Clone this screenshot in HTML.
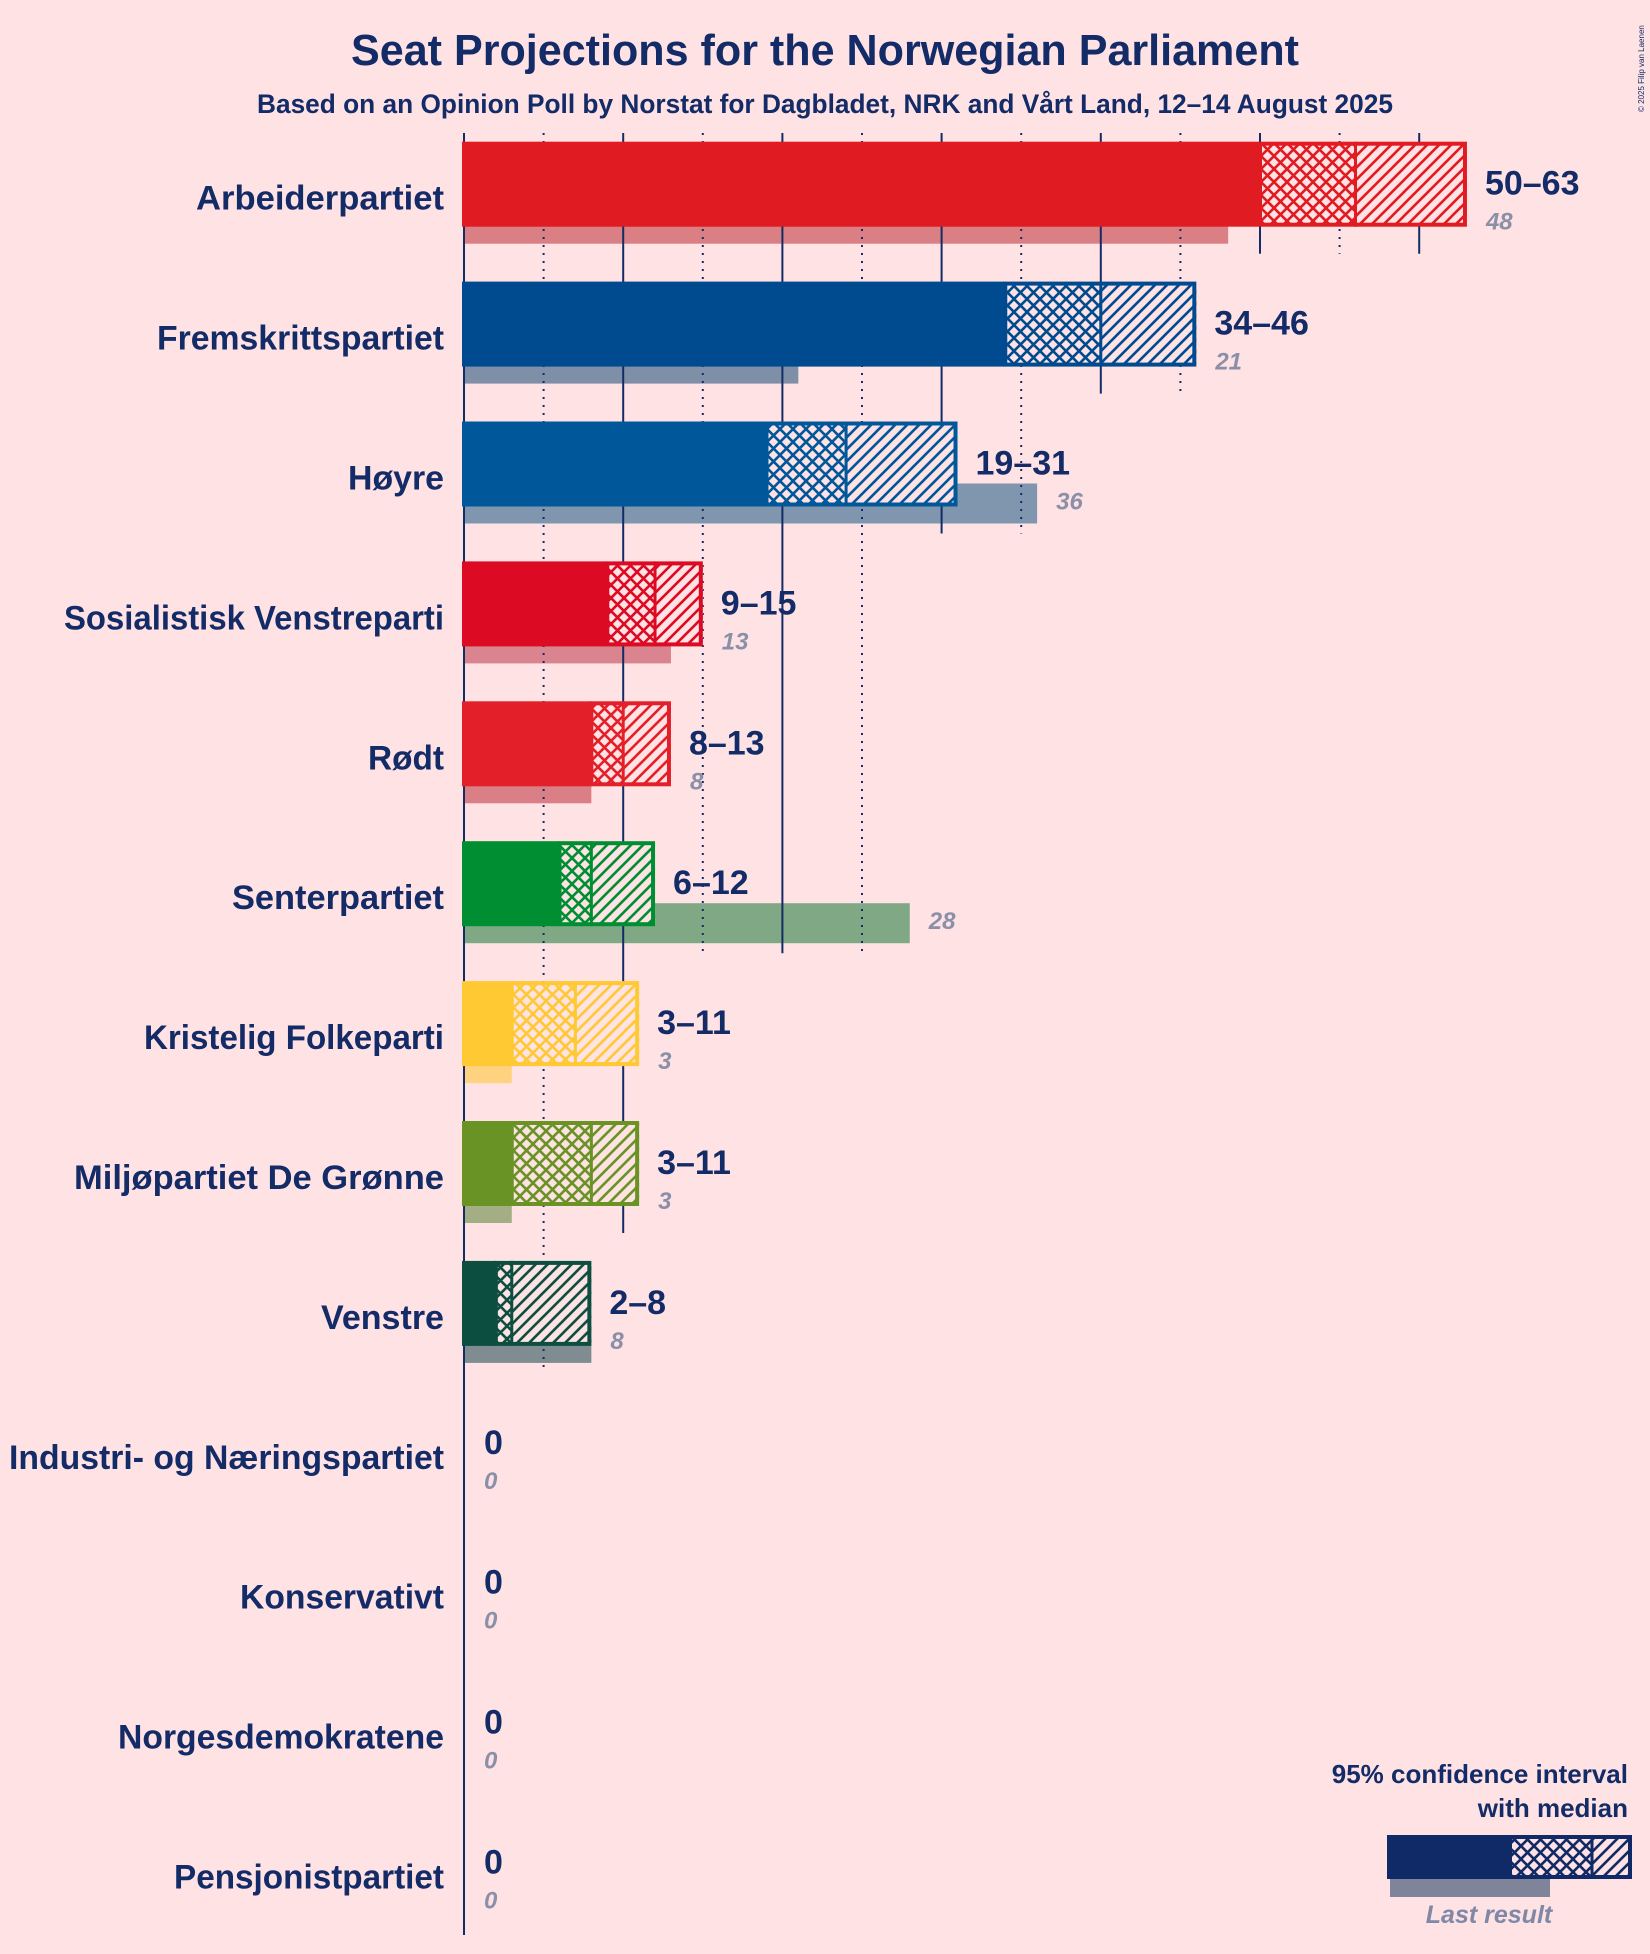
<!DOCTYPE html>
<html><head><meta charset="utf-8">
<style>
html,body{margin:0;padding:0;background:#FFE2E4;}
svg{display:block;font-family:"Liberation Sans",sans-serif;}
</style></head>
<body>
<svg id="chart" width="1650" height="1954" viewBox="0 0 1650 1954" xmlns="http://www.w3.org/2000/svg">
<rect x="0" y="0" width="1650" height="1954" fill="#FFE2E4"/>
<defs id="defs"></defs>
<text x="825" y="65" text-anchor="middle" font-size="44" font-weight="bold" fill="#132B66" textLength="948" lengthAdjust="spacingAndGlyphs">Seat Projections for the Norwegian Parliament</text>
<text x="825" y="113" text-anchor="middle" font-size="27" font-weight="bold" fill="#132B66" textLength="1136" lengthAdjust="spacingAndGlyphs">Based on an Opinion Poll by Norstat for Dagbladet, NRK and Vårt Land, 12–14 August 2025</text>
<text transform="translate(1644,112) rotate(-90)" font-size="8" fill="#132B66">© 2025 Filip van Laenen</text>
<g id="plot"></g>
<g>
<text x="1628" y="1783" text-anchor="end" font-size="26" font-weight="bold" fill="#132B66">95% confidence interval</text>
<text x="1628" y="1817" text-anchor="end" font-size="26" font-weight="bold" fill="#132B66">with median</text>
<rect x="1390" y="1875" width="160" height="22" fill="#80849A"/>
<rect x="1387" y="1835" width="123" height="44" fill="#0F2A66"/>
<rect x="1510" y="1837" width="82" height="40" fill="url(#cross-leg)"/>
<rect x="1592" y="1837" width="38" height="40" fill="url(#diag-leg)"/>
<rect x="1510" y="1837" width="120" height="40" fill="none" stroke="#0F2A66" stroke-width="4"/>
<line x1="1592" y1="1837" x2="1592" y2="1877" stroke="#0F2A66" stroke-width="3"/>
<text x="1489" y="1923" text-anchor="middle" font-size="25" font-style="italic" font-weight="bold" fill="#8088A8">Last result</text>
</g>
</svg>
<script>
const parties = ["Arbeiderpartiet","Fremskrittspartiet","Høyre","Sosialistisk Venstreparti","Rødt","Senterpartiet","Kristelig Folkeparti","Miljøpartiet De Grønne","Venstre","Industri- og Næringspartiet","Konservativt","Norgesdemokratene","Pensjonistpartiet"];
const lowValues = [50,34,19,9,8,6,3,3,2,0,0,0,0];
const medianValues = [56,40,24,12,10,8,7,8,3,0,0,0,0];
const highValues = [63,46,31,15,13,12,11,11,8,0,0,0,0];
const lastResults = [48,21,36,13,8,28,3,3,8,0,0,0,0];
const partyColors = ["#E01B22","#004B8F","#00579A","#DD0A24","#E3202A","#008E33","#FFC933","#6A9325","#0C4F40","#132B66","#132B66","#132B66","#132B66"];
const lastColors = ["#DA7F83","#808FA8","#8096AE","#D9848E","#DA7F86","#80A885","#FFD27F","#A3AE84","#7F8C92","#888","#888","#888","#888"];
const nameWidths = [248,287,96,380,76,212,300,370,123,435,204,326,270];
const gridTicks = [0,5,10,15,20,25,30,35,40,45,50,55,60];

const NS="http://www.w3.org/2000/svg";
const X0=464, PX=15.92, ROW0=141.7, PITCH=139.9, BARH=85;
function xs(v){return X0+v*PX;}
function rowTop(i){return ROW0+i*PITCH;}
function mk(tag,attrs,parent){const e=document.createElementNS(NS,tag);for(const k in attrs)e.setAttribute(k,attrs[k]);parent.appendChild(e);return e;}
const defs=document.getElementById('defs');
const plot=document.getElementById('plot');

function addPatterns(id,color){
  const p1=mk('pattern',{id:'cross-'+id,patternUnits:'userSpaceOnUse',width:13,height:13},defs);
  mk('rect',{x:0,y:0,width:13,height:13,fill:'#FFE2E4'},p1);
  mk('path',{d:'M0,0L13,13M13,0L0,13M-2,11L2,15M11,-2L15,2M-2,2L2,-2M11,15L15,11',stroke:color,'stroke-width':2.6},p1);
  const p2=mk('pattern',{id:'diag-'+id,patternUnits:'userSpaceOnUse',width:12,height:12},defs);
  mk('rect',{x:0,y:0,width:12,height:12,fill:'#FFE2E4'},p2);
  mk('path',{d:'M0,12L12,0M-3,3L3,-3M9,15L15,9',stroke:color,'stroke-width':2.6},p2);
}
addPatterns('leg','#0F2A66');

lastResults.forEach(function(v,i){
  if(v<=0)return;
  const r=mk('rect',{x:X0,y:rowTop(i)+62,width:xs(v)-X0,height:40,fill:lastColors[i]},plot);
  
  
});
gridTicks.forEach(function(s){
  let last=-1;
  for(let i=0;i<parties.length;i++){ if(Math.max(highValues[i],lastResults[i])>=s) last=i; }
  let y2 = s===0 ? 1935 : rowTop(last)+112;
  const solid = s%10===0;
  const l=mk('line',{x1:xs(s),y1:133,x2:xs(s),y2:y2,stroke:'#132B66','stroke-width':2,'stroke-dasharray':solid?'none':'2,6'},plot);
  
  
});
parties.forEach(function(name,i){
  const top=rowTop(i), c=partyColors[i];
  const t=mk('text',{x:444,y:top+68,'text-anchor':'end','font-size':34,'font-weight':'bold',fill:'#132B66',textLength:nameWidths[i],lengthAdjust:'spacingAndGlyphs'},plot);
  t.textContent=name;
  
  
  const lo=lowValues[i], md=medianValues[i], hi=highValues[i];
  if(hi>0){
    addPatterns('p'+i,c);
    const b=mk('rect',{x:X0-2,y:top,width:xs(lo)-X0+2,height:BARH,fill:c},plot);
    
    
    const ch=mk('rect',{x:xs(lo),y:top+2,width:xs(md)-xs(lo),height:BARH-4,fill:'url(#cross-p'+i+')'},plot);
    
    
    const dh=mk('rect',{x:xs(md),y:top+2,width:xs(hi)-xs(md),height:BARH-4,fill:'url(#diag-p'+i+')'},plot);
    
    
    const o=mk('rect',{x:xs(lo),y:top+2,width:xs(hi)-xs(lo)-2,height:BARH-4,fill:'none',stroke:c,'stroke-width':4},plot);
    
    
    const m=mk('line',{x1:xs(md),y1:top,x2:xs(md),y2:top+BARH,stroke:c,'stroke-width':3},plot);
    
    
  }
  const lx = xs(hi)+ (hi>0?18:20);
  const rl=mk('text',{x:lx,y:top+53,'font-size':34,'font-weight':'bold',fill:'#132B66'},plot);
  rl.textContent = hi>0 ? (lo+'–'+hi) : '0';
  
  
  const m2=Math.max(hi,lastResults[i]);
  const lrx = xs(m2)+(m2>0?19:20);
  const lr=mk('text',{x:lrx,y:top+88,'font-size':24,'font-weight':'bold','font-style':'italic',fill:'#8A90A8'},plot);
  lr.textContent=String(lastResults[i]);
  
  
});
</script>
</body></html>
